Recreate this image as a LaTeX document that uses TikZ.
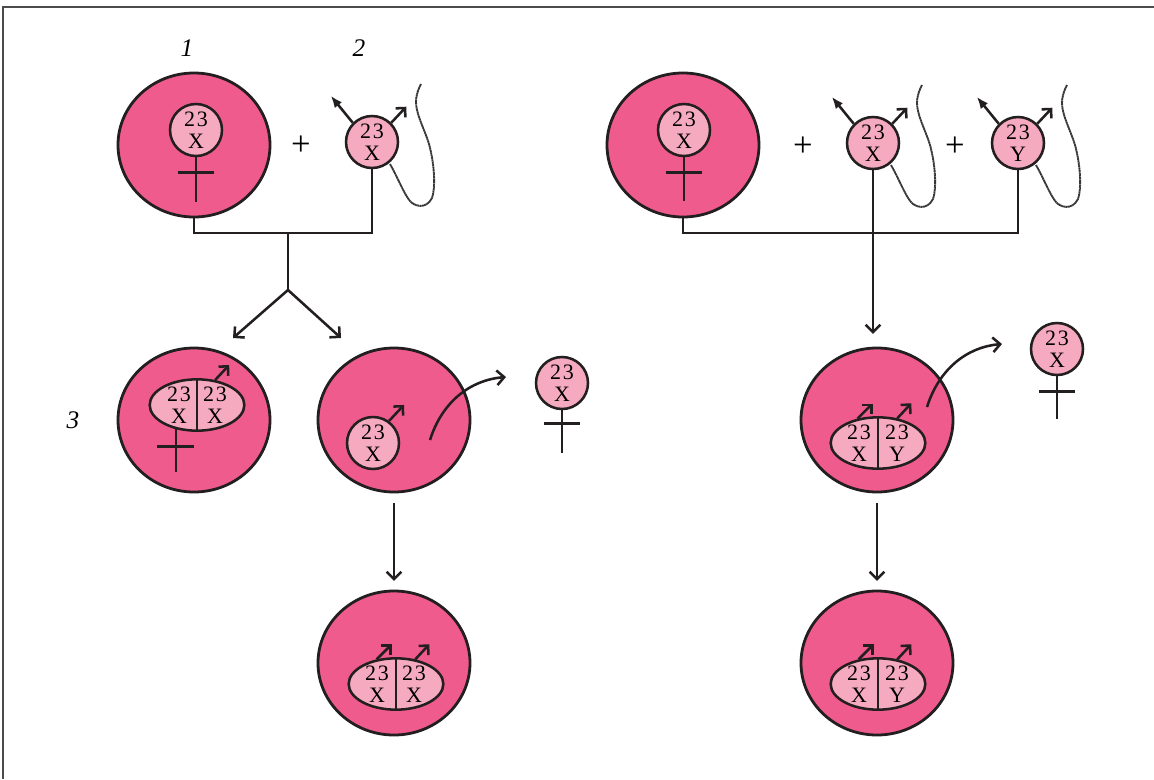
\documentclass[tikz,border=0pt]{standalone}
\usepackage{fontspec}
\setmainfont{Liberation Serif}
\usetikzlibrary{arrows.meta,shapes.geometric,calc}
\definecolor{cellpink}{RGB}{240,91,142}
\definecolor{nucpink}{RGB}{246,170,192}
\definecolor{ink}{RGB}{35,31,32}
\definecolor{tailgray}{RGB}{55,55,55}
% chromosome set: "23" over the sex chromosome
\newcommand\chrm[1]{2\kern1.5pt 3\\#1}
% sperm head with flagellum marker, male sign and tail
\newcommand\spermcell[4]{%
  \node[nuc] (#1) at (#2,#3) {\chrm{#4}};
  \draw[flag] (#1.135) -- ++(-22,-27);
  \draw[male] (#1.45) -- ++(15,-16);
  \begin{scope}[shift={(#1.center)}]
    \draw[tail] (18,22) .. controls (26,36) and (32,52) .. (38,59)
      .. controls (42,64) and (54,68) .. (60,56)
      .. controls (64,44) and (62,20) .. (57,2)
      .. controls (52,-14) and (44,-28) .. (44,-40)
      .. controls (44,-48) and (47,-54) .. (49,-58);
  \end{scope}}
\begin{document}
\begin{tikzpicture}[x=0.75pt,y=-0.75pt,
  cell/.style={ellipse,draw=ink,line width=2.1pt,fill=cellpink,minimum width=114pt,minimum height=108pt,inner sep=0pt},
  nuc/.style={circle,draw=ink,line width=1.9pt,fill=nucpink,minimum size=39pt,inner sep=0pt,align=center,font=\fontsize{16.5}{16.5}\selectfont},
  pair/.style={ellipse,draw=ink,line width=1.9pt,fill=nucpink,minimum width=71pt,minimum height=38.5pt,inner sep=0pt},
  half/.style={align=center,inner sep=0pt,font=\fontsize{16.5}{16.5}\selectfont},
  wire/.style={draw=ink,line width=1.9pt},
  arr/.style={wire,-{Straight Barb[length=5.5pt,width=11pt]}},
  male/.style={draw=ink,line width=1.9pt,-{Straight Barb[length=5pt,width=10pt]}},
  female/.style={draw=ink,line width=2.1pt},
  flag/.style={draw=ink,line width=1.9pt,-{Latex[length=9pt,width=7pt]}},
  tail/.style={draw=tailgray,line width=1.4pt,dash pattern=on 1.5pt off 0.3pt},
  num/.style={font=\fontsize{19}{19}\selectfont\itshape,inner sep=0pt},
  plus/.style={font=\fontsize{26}{26}\selectfont,inner sep=0pt}
]
\useasboundingbox (0,0) rectangle (1154,779);
\draw[draw=black!70,line width=0.9pt] (3,779) -- (3,7) -- (1154,7);

% ---------- left column: normal fertilisation ----------
\node[num] (l1) at (187,48) {1};
\node[num] (l2) at (359,48) {2};
\node[num] (l3) at (73,420) {3};

\coordinate (bar1) at (288,233);
\coordinate (fork1) at (288,290);
\coordinate (tipL) at (233,338);
\coordinate (tipR) at (341,338);

\node[cell] (egg1) at (194,145) {};
\node[nuc] (n1) at (196,130) {\chrm{X}};
\draw[female] (n1.south) -- ++(0,45);
\draw[female] ($(n1.south)+(-18,15)$) -- ++(36,0);

\node[plus] (p1) at (301,146) {+};
\spermcell{s1}{372}{142}{X}

\draw[wire] (egg1.south) |- (bar1) -| (s1.south);
\draw[wire] (bar1) -- (fork1);
\draw[arr] (fork1) -- (tipL);
\draw[arr] (fork1) -- (tipR);

% zygote 46,XX
\node[cell] (zyg1) at (194,420) {};
\node[pair] (pr1) at (197,405) {};
\draw[wire] (pr1.north) -- (pr1.south);
\node[half] (pr1a) at (179,405) {\chrm{X}};
\node[half] (pr1b) at (215,405) {\chrm{X}};
\draw[male] (pr1.54) -- ++(14,-15);
\draw[female] (pr1.229) -- ++(0,43);
\draw[female] ($(pr1.229)+(-19,17)$) -- ++(37,0);

% fertilised egg expelling its own set
\node[cell] (oo1) at (394,420) {};
\node[nuc] (n3) at (373,443) {\chrm{X}};
\draw[male] (n3.54) -- ++(15,-16);
\coordinate (ex1s) at (430,440);
\coordinate (ex1e) at (506,377);
\draw[arr] (ex1s) .. controls (442,402) and (470,380) .. (ex1e);
\node[nuc] (pb1) at (562,383) {\chrm{X}};
\draw[female] (pb1.south) -- ++(0,43);
\draw[female] ($(pb1.south)+(-18,13)$) -- ++(36,0);

\node[cell] (zyg1c) at (394,663) {};
\node[pair] (pr2) at (396,684) {};
\draw[wire] (pr2.north) -- (pr2.south);
\node[half] (pr2a) at (377,684) {\chrm{X}};
\node[half] (pr2b) at (414,684) {\chrm{X}};
\draw[male] (pr2.128) -- ++(15,-15);
\draw[male] (pr2.52) -- ++(14,-15);
\draw[arr,shorten <=7.5pt,shorten >=6.5pt] (oo1.south) -- (zyg1c.north);

% ---------- right column: two sperm ----------
\node[cell] (egg2) at (683,145) {};
\node[nuc] (n2) at (684,130) {\chrm{X}};
\draw[female] (n2.south) -- ++(0,44);
\draw[female] ($(n2.south)+(-18,15)$) -- ++(36,0);

\node[plus] (p2) at (803,147) {+};
\spermcell{s2}{873}{143}{X}
\node[plus] (p3) at (955,147) {+};
\spermcell{s3}{1018}{143}{Y}

\coordinate (bar2) at (873,233);
\draw[wire] (egg2.south) |- (bar2) -| (s3.south);

\node[cell] (zyg2) at (877,420) {};
\draw[arr,shorten >=9.5pt] (s2.south) -- (s2.south |- zyg2.north);
\node[pair] (pr3) at (878,443) {};
\draw[wire] (pr3.north) -- (pr3.south);
\node[half] (pr3a) at (859,443) {\chrm{X}};
\node[half] (pr3b) at (897,443) {\chrm{Y}};
\draw[male] (pr3.130) -- ++(15,-15);
\draw[male] (pr3.52) -- ++(14,-15);
\coordinate (ex2s) at (927,407);
\coordinate (ex2e) at (1002,344);
\draw[arr] (ex2s) .. controls (939,369) and (967,347) .. (ex2e);
\node[nuc] (pb2) at (1057,349) {\chrm{X}};
\draw[female] (pb2.south) -- ++(0,43);
\draw[female] ($(pb2.south)+(-18,15)$) -- ++(36,0);

\node[cell] (zyg3) at (877,663) {};
\node[pair] (pr4) at (878,684) {};
\draw[wire] (pr4.north) -- (pr4.south);
\node[half] (pr4a) at (859,684) {\chrm{X}};
\node[half] (pr4b) at (897,684) {\chrm{Y}};
\draw[male] (pr4.128) -- ++(15,-15);
\draw[male] (pr4.52) -- ++(14,-15);
\draw[arr,shorten <=7.5pt,shorten >=6.5pt] (zyg2.south) -- (zyg3.north);
\end{tikzpicture}
\end{document}
